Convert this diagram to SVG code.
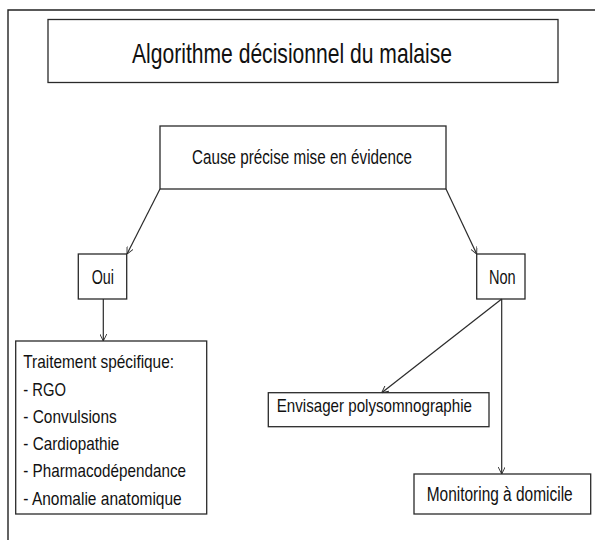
<svg xmlns="http://www.w3.org/2000/svg" width="595" height="540" viewBox="0 0 595 540">
<style>
.box{fill:#fff;stroke:#2a2a2a;stroke-width:1.3}
.t{font-family:"Liberation Sans",Arial,sans-serif;fill:#111}
.c{fill:none;stroke:#2a2a2a;stroke-width:1.2}
</style>
<defs>
<marker id="arr" viewBox="0 0 10 10" refX="10" refY="5" markerWidth="7" markerHeight="7" markerUnits="userSpaceOnUse" orient="auto">
<path d="M0,0 L10,5 L0,10" fill="none" stroke="#2a2a2a" stroke-width="1.3"/>
</marker>
</defs>
<rect width="595" height="540" fill="#fff"/>
<path d="M8,540 V10 H595" fill="none" stroke="#222" stroke-width="1.4"/>
<g id="title">
<rect class="box" x="48" y="19.5" width="510" height="63"/>
<text class="t" x="132" y="63" font-size="28.5" textLength="320" lengthAdjust="spacingAndGlyphs">Algorithme décisionnel du malaise</text>
</g>
<g id="cause">
<rect class="box" x="160" y="126" width="286" height="63"/>
<text class="t" x="192" y="163.5" font-size="20.5" textLength="220" lengthAdjust="spacingAndGlyphs">Cause précise mise en évidence</text>
</g>
<g id="oui">
<rect class="box" x="78.3" y="254" width="48.4" height="45"/>
<text class="t" x="91.7" y="284.3" font-size="20" textLength="22.3" lengthAdjust="spacingAndGlyphs">Oui</text>
</g>
<g id="non">
<rect class="box" x="476.7" y="254" width="48.3" height="45"/>
<text class="t" x="489" y="284.3" font-size="20" textLength="26.7" lengthAdjust="spacingAndGlyphs">Non</text>
</g>
<g id="traitement">
<rect class="box" x="15.7" y="341" width="191" height="173"/>
<text class="t" x="23.3" y="368.3" font-size="19" textLength="150.7" lengthAdjust="spacingAndGlyphs">Traitement spécifique:</text>
<text class="t" x="23.3" y="395.5" font-size="19" textLength="42.7" lengthAdjust="spacingAndGlyphs">- RGO</text>
<text class="t" x="23.3" y="422.5" font-size="19" textLength="93.4" lengthAdjust="spacingAndGlyphs">- Convulsions</text>
<text class="t" x="23.3" y="449.5" font-size="19" textLength="96" lengthAdjust="spacingAndGlyphs">- Cardiopathie</text>
<text class="t" x="23.3" y="477" font-size="19" textLength="162.7" lengthAdjust="spacingAndGlyphs">- Pharmacodépendance</text>
<text class="t" x="23.3" y="504.5" font-size="19" textLength="158.4" lengthAdjust="spacingAndGlyphs">- Anomalie anatomique</text>
</g>
<g id="envisager">
<rect class="box" x="268.3" y="392.7" width="220.7" height="34"/>
<text class="t" x="276.7" y="412" font-size="19" textLength="195.3" lengthAdjust="spacingAndGlyphs">Envisager polysomnographie</text>
</g>
<g id="monitoring">
<rect class="box" x="414" y="474" width="176.7" height="40"/>
<text class="t" x="426.7" y="500.5" font-size="19.5" textLength="146" lengthAdjust="spacingAndGlyphs">Monitoring à domicile</text>
</g>
<g id="connectors">
<line class="c" x1="160" y1="189" x2="127" y2="254" marker-end="url(#arr)"/>
<line class="c" x1="446" y1="189" x2="476.7" y2="254" marker-end="url(#arr)"/>
<line class="c" x1="103.3" y1="299" x2="103.3" y2="341" marker-end="url(#arr)"/>
<line class="c" x1="501.7" y1="299" x2="381.7" y2="392.7" marker-end="url(#arr)"/>
<line class="c" x1="501.7" y1="299" x2="501.7" y2="474" marker-end="url(#arr)" stroke="#555" stroke-width="1.6"/>
</g>
</svg>
